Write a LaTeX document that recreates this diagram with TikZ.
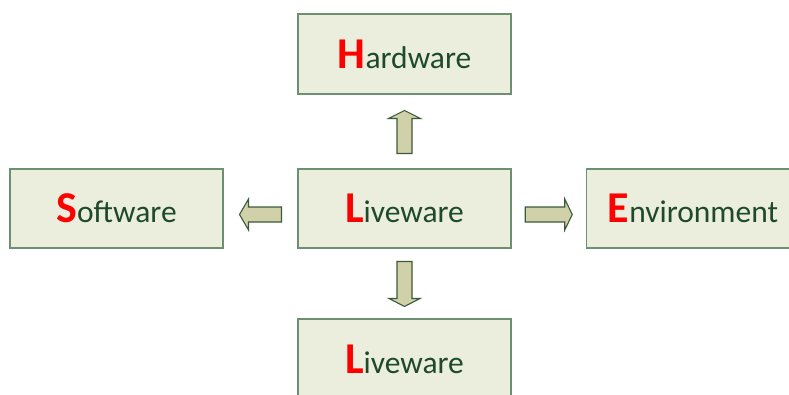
\documentclass[tikz,border=0pt]{standalone}
\usepackage{fontspec}
\setmainfont{Carlito}
\usetikzlibrary{calc}
\definecolor{boxfill}{HTML}{EBEEDD}
\definecolor{boxline}{HTML}{6F8F72}
\definecolor{txtgreen}{HTML}{1E4A2A}
\definecolor{arrfill}{HTML}{D0D1A8}
\definecolor{arrline}{HTML}{3A5A3C}
\tikzset{
  elbox/.style={draw=boxline, line width=1.4pt, fill=boxfill, minimum width=213pt, minimum height=80pt,
    inner sep=0pt, text=txtgreen, font=\fontsize{31.5}{36}\selectfont},
  blockarrow/.style={draw=arrline, fill=arrfill, line width=1.1pt, line join=miter},
}
\newcommand{\initial}[1]{\textcolor{red}{\fontsize{44}{44}\selectfont\bfseries #1}}
\begin{document}
\begin{tikzpicture}[x=1pt,y=1pt]
\useasboundingbox (0,0) rectangle (789,394);
\node[elbox] (hw) at (404.5,340) {\initial{H}ardware};
\node[elbox, minimum height=79pt] (sw) at (116.5,185.5) {\initial{S}oftware};
\node[elbox, minimum height=79pt] (lc) at (404.5,185.5) {\initial{L}iveware};
\node[elbox, minimum height=79pt, minimum width=240pt] (env) at (706.5,185.5) {};
\node[text=txtgreen, font=\fontsize{31.5}{36}\selectfont, inner sep=0pt] (envt) at (693,185.5) {\initial{E}nvironment};
\node[elbox] (lb) at (404.5,35) {\initial{L}iveware};
% up
\coordinate (au) at ($(lc.north)!0.5!(hw.south)+(0,-0.5)$);
\draw[blockarrow, shift={(au)}] (-7.5,-21.5) -- (-7.5,13.5) -- (-16,13.5) -- (0,21.5) -- (16,13.5) -- (7.5,13.5) -- (7.5,-21.5) -- cycle;
% down
\coordinate (ad) at ($(lc.south)!0.5!(lb.north)+(0,-0.5)$);
\draw[blockarrow, shift={(ad)}] (-7.5,22.5) -- (-7.5,-14.5) -- (-15.5,-14.5) -- (0,-22.5) -- (15.5,-14.5) -- (7.5,-14.5) -- (7.5,22.5) -- cycle;
% left
\coordinate (al) at ($(sw.east)!0.5!(lc.west)+(0,-6)$);
\draw[blockarrow, shift={(al)}] (21,7.5) -- (-12,7.5) -- (-12,15.5) -- (-21,0) -- (-12,-15.5) -- (-12,-7.5) -- (21,-7.5) -- cycle;
% right
\coordinate (ar) at ($(lc.east)!0.5!(env.west)+(0,-6)$);
\draw[blockarrow, shift={(ar)}] (-23.5,7.5) -- (16,7.5) -- (16,15.5) -- (23.5,0) -- (16,-15.5) -- (16,-7.5) -- (-23.5,-7.5) -- cycle;
\end{tikzpicture}
\end{document}
